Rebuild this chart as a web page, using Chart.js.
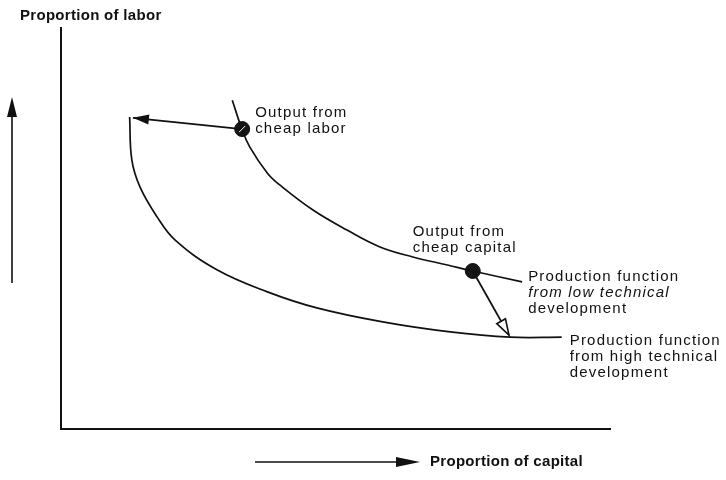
<!DOCTYPE html>
<html>
<head>
<meta charset="utf-8">
<script src="https://cdn.jsdelivr.net/npm/chart.js@4/dist/chart.umd.min.js"></script>
<style>
  html, body { margin: 0; padding: 0; background: #fff; }
  #wrap { width: 726px; height: 480px; }
</style>
</head>
<body>
<div id="wrap"><canvas id="isoquants"></canvas></div>
<script>
// x = proportion of capital, y = proportion of labor (both 0-100)
const lowTechCapital  = [31.2, 33.0, 34.4, 37.6, 39.9, 45.9, 52.1, 58.1, 64.1, 70.4, 75.0, 84.0];
const lowTechLabor    = [82.0, 74.6, 70.3, 63.8, 60.8, 54.6, 49.6, 45.4, 42.9, 40.9, 39.4, 36.7];
const highTechCapital = [12.5, 12.9, 14.4, 17.5, 20.8, 28.4, 37.6, 46.6, 58.6, 70.9, 81.8, 91.2];
const highTechLabor   = [77.8, 67.1, 60.3, 52.9, 47.1, 39.7, 34.2, 30.2, 26.7, 24.2, 22.9, 22.9];

const outputNames   = [['Output from', 'cheap labor'], ['Output from', 'cheap capital']];
const outputCapital = [33.0, 75.0];
const outputLabor   = [74.8, 39.4];
// where each output moves to on the high technology curve
const shiftCapital  = [13.1, 81.6];
const shiftLabor    = [77.6, 23.4];

const lowTechName  = ['Production function', 'from low technical', 'development'];
const highTechName = ['Production function', 'from high technical', 'development'];
const yTitle = 'Proportion of labor';
const xTitle = 'Proportion of capital';

const INK = '#111';
const FONT = '"Liberation Sans", Arial, Helvetica, sans-serif';
const PLAIN = '15px ' + FONT;
const ITALIC = 'italic 15px ' + FONT;
const BOLD = 'bold 15px ' + FONT;

function pts(xs, ys) {
  return xs.map((x, i) => ({x: x, y: ys[i]}));
}

function curve(xs, ys) {
  return {
    type: 'line',
    data: pts(xs, ys),
    borderColor: INK,
    borderWidth: 1.7,
    pointRadius: 0,
    tension: 0.4,
    fill: false
  };
}

function shiftArrow(i) {
  return {
    type: 'line',
    data: [{x: outputCapital[i], y: outputLabor[i]}, {x: shiftCapital[i], y: shiftLabor[i]}],
    borderColor: INK,
    borderWidth: 1.8,
    pointRadius: 0,
    tension: 0,
    arrow: i === 0 ? 'solid' : 'open'
  };
}

function arrowHead(ctx, x0, y0, x1, y1, len, half, open) {
  const a = Math.atan2(y1 - y0, x1 - x0);
  const bx = x1 - Math.cos(a) * len, by = y1 - Math.sin(a) * len;
  ctx.beginPath();
  ctx.moveTo(x1, y1);
  ctx.lineTo(bx + Math.sin(a) * half, by - Math.cos(a) * half);
  ctx.lineTo(bx - Math.sin(a) * half, by + Math.cos(a) * half);
  ctx.closePath();
  if (open) {
    ctx.fillStyle = '#fff';
    ctx.fill();
    ctx.lineWidth = 1.6;
    ctx.strokeStyle = INK;
    ctx.stroke();
  } else {
    ctx.fillStyle = INK;
    ctx.fill();
  }
}

function lines(ctx, text, x, y, step, fonts) {
  ctx.fillStyle = INK;
  text.forEach((t, i) => {
    ctx.font = fonts ? fonts[i] : PLAIN;
    ctx.fillText(t, x, y + i * step);
  });
}

const notes = {
  id: 'notes',
  afterDatasetsDraw(chart) {
    const {ctx, chartArea: area, scales: {x, y}} = chart;
    const px = v => x.getPixelForValue(v);
    const py = v => y.getPixelForValue(v);
    ctx.save();

    // arrowheads on the shift arrows
    chart.data.datasets.forEach(ds => {
      if (!ds.arrow) return;
      const p = ds.data;
      arrowHead(ctx, px(p[0].x), py(p[0].y), px(p[1].x), py(p[1].y), 16, 5, ds.arrow === 'open');
    });

    // slash across the cheap labor dot
    const cx = px(outputCapital[0]), cy = py(outputLabor[0]);
    ctx.strokeStyle = '#fff';
    ctx.lineWidth = 1;
    ctx.beginPath();
    ctx.moveTo(cx - 3, cy + 3);
    ctx.lineTo(cx + 3, cy - 3);
    ctx.stroke();

    ctx.textBaseline = 'middle';
    ctx.textAlign = 'left';
    ctx.letterSpacing = '1.2px';

    // output labels
    lines(ctx, outputNames[0], cx + 13, cy - 16, 16);
    const kx = px(outputCapital[1]), ky = py(outputLabor[1]);
    lines(ctx, outputNames[1], kx - 60, ky - 39, 16);

    // curve labels
    const ln = lowTechCapital.length - 1, hn = highTechCapital.length - 1;
    lines(ctx, lowTechName, px(lowTechCapital[ln]) + 6, py(lowTechLabor[ln]) - 5, 16,
      [PLAIN, ITALIC, PLAIN]);
    lines(ctx, highTechName, px(highTechCapital[hn]) + 8, py(highTechLabor[hn]) + 4, 16);

    // axis titles with their direction arrows
    ctx.letterSpacing = '0.3px';
    ctx.font = BOLD;
    ctx.fillText(yTitle, 20, area.top - 12);
    ctx.strokeStyle = INK;
    ctx.lineWidth = 1.6;
    const ax = area.left - 49;
    ctx.beginPath();
    ctx.moveTo(ax, area.top + 255);
    ctx.lineTo(ax, area.top + 85);
    ctx.stroke();
    arrowHead(ctx, ax, area.top + 255, ax, area.top + 69, 20, 5, false);

    const by = area.bottom + 33;
    ctx.beginPath();
    ctx.moveTo(area.left + 194, by);
    ctx.lineTo(area.left + 340, by);
    ctx.stroke();
    arrowHead(ctx, area.left + 194, by, area.left + 359, by, 24, 5, false);
    ctx.fillText(xTitle, area.left + 369, by);
    ctx.restore();
  }
};

const axis = {
  min: 0,
  max: 100,
  ticks: {display: false},
  grid: {display: false},
  border: {display: true, color: INK, width: 2},
  // no room for ticks or labels: the axis line sits on the plot edge
  afterFit(scale) {
    if (scale.isHorizontal()) scale.height = 0;
    else scale.width = 0;
  }
};

new Chart(document.getElementById('isoquants'), {
  type: 'scatter',
  data: {
    datasets: [
      curve(lowTechCapital, lowTechLabor),
      curve(highTechCapital, highTechLabor),
      shiftArrow(0),
      shiftArrow(1),
      {
        type: 'scatter',
        data: pts(outputCapital, outputLabor),
        pointRadius: 7.5,
        pointBackgroundColor: '#161616',
        pointBorderColor: INK,
        pointBorderWidth: 1
      }
    ]
  },
  options: {
    responsive: true,
    maintainAspectRatio: false,
    animation: false,
    layout: {padding: {left: 61, right: 116, top: 28, bottom: 51}},
    scales: {x: axis, y: axis},
    plugins: {legend: {display: false}, tooltip: {enabled: false}}
  },
  plugins: [notes]
});
</script>
</body>
</html>
